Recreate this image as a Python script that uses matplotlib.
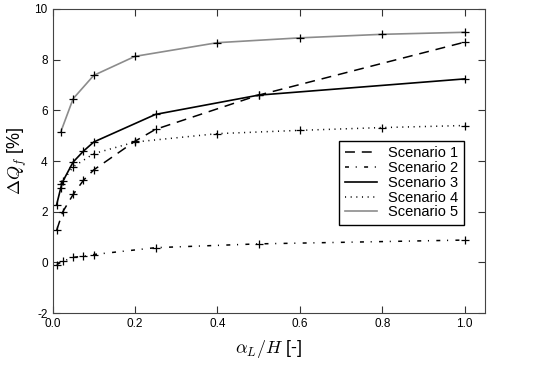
import matplotlib
matplotlib.use('Agg')
import matplotlib.pyplot as plt

plt.rcParams['font.family'] = ['Liberation Sans', 'DejaVu Sans']
plt.rcParams['mathtext.fontset'] = 'cm'
plt.rcParams['axes.unicode_minus'] = False

# Scenario 1 (dashed)
x1 = [0.01, 0.025, 0.05, 0.075, 0.1, 0.2, 0.25, 0.5, 1.0]
y1 = [1.27, 2.0, 2.68, 3.24, 3.65, 4.78, 5.25, 6.6, 8.69]
# Scenario 2 (dash-dot)
x2 = [0.01, 0.025, 0.05, 0.075, 0.1, 0.25, 0.5, 1.0]
y2 = [-0.09, 0.04, 0.2, 0.24, 0.31, 0.58, 0.73, 0.88]
# Scenario 3 (solid)
x3 = [0.01, 0.02, 0.025, 0.05, 0.075, 0.1, 0.25, 0.5, 1.0]
y3 = [2.28, 2.94, 3.2, 3.96, 4.39, 4.75, 5.84, 6.6, 7.24]
# Scenario 4 (dotted)
x4 = [0.02, 0.05, 0.1, 0.2, 0.4, 0.6, 0.8, 1.0]
y4 = [3.1, 3.77, 4.29, 4.75, 5.08, 5.21, 5.32, 5.4]
# Scenario 5 (grey)
x5 = [0.02, 0.05, 0.1, 0.2, 0.4, 0.6, 0.8, 1.0]
y5 = [5.15, 6.46, 7.38, 8.13, 8.67, 8.86, 9.0, 9.08]

fig = plt.figure(figsize=(5.59, 3.74), dpi=100)
ax = fig.add_axes([0.094, 0.163, 0.774, 0.813])

mk = dict(marker='+', ms=5.5, mew=0.9, mec='k')
ax.plot(x1, y1, color='k', lw=1.1, dashes=(6.5, 4.5), label='Scenario 1', **mk)
ax.plot(x2, y2, color='k', lw=1.1, dashes=(2.6, 4.4, 0.7, 4.8), label='Scenario 2', **mk)
ax.plot(x3, y3, color='k', lw=1.2, linestyle='-', label='Scenario 3', **mk)
ax.plot(x4, y4, color='k', lw=1.1, dashes=(0.7, 3.0), label='Scenario 4', **mk)
ax.plot(x5, y5, color='#8c8c8c', lw=1.2, linestyle='-', label='Scenario 5', **mk)

ax.set_xlim(0, 1.05)
ax.set_ylim(-2, 10)
ax.set_xticks([0.0, 0.2, 0.4, 0.6, 0.8, 1.0])
ax.set_yticks([-2, 0, 2, 4, 6, 8, 10])
ax.tick_params(direction='in', top=True, right=True, length=5, labelsize=8.5, color='#333333')
for s in ax.spines.values():
    s.set_color('#444444')

ax.set_xlabel(r'$\alpha_L/H$ [-]', fontsize=13, labelpad=6)
ax.set_ylabel(r'$\Delta Q_f$ [%]', fontsize=13, labelpad=4)

leg = ax.legend(loc='upper right', bbox_to_anchor=(0.951, 0.567), borderaxespad=0,
                fontsize=10.5, fancybox=False, framealpha=1, edgecolor='k',
                handlelength=2.2, handletextpad=0.75, labelspacing=0.05,
                borderpad=0.4)
for h in leg.legend_handles:
    h.set_marker('')
leg.get_frame().set_linewidth(1.0)

fig.savefig('out.png', dpi=100)
